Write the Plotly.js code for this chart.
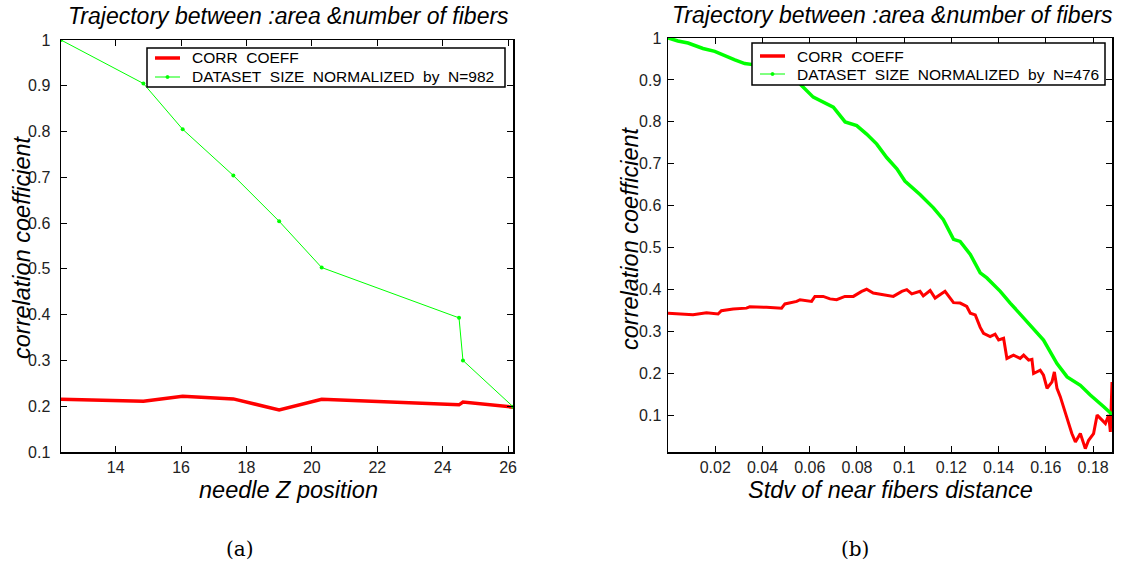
<!DOCTYPE html>
<html>
<head>
<meta charset="utf-8">
<script src="https://cdn.plot.ly/plotly-3.0.1.min.js"></script>
<style>
  html, body { margin: 0; padding: 0; background: #ffffff; }
  #chart { width: 1143px; height: 572px; }
</style>
</head>
<body>
<div id="chart"></div>
<script>
// (a) correlation along the needle trajectory
const needleZ   = [12.33, 14.85, 16.05, 17.6, 19.0, 20.3, 24.5, 24.62, 26.15];
const corrByZ   = [0.215, 0.211, 0.222, 0.216, 0.192, 0.215, 0.203, 0.209, 0.198];
const sizeByZ   = [1.0, 0.905, 0.805, 0.704, 0.604, 0.503, 0.393, 0.300, 0.199];

// (b) correlation against the spread of near-fiber distances
const stdvCorr = [0, 0.0064, 0.0106, 0.0163, 0.0212, 0.0226, 0.0276, 0.0332, 0.0346, 0.0417,
  0.0481, 0.0495, 0.0545, 0.0559, 0.0608, 0.0622, 0.0657, 0.0686, 0.0714, 0.0749,
  0.0785, 0.082, 0.0841, 0.0869, 0.0912, 0.0954, 0.099, 0.1011, 0.1032, 0.1067,
  0.1081, 0.111, 0.1131, 0.1152, 0.1173, 0.1209, 0.1237, 0.1265, 0.128, 0.1301,
  0.1322, 0.1336, 0.1364, 0.1385, 0.14, 0.1421, 0.1435, 0.1463, 0.1491, 0.1506,
  0.1527, 0.1541, 0.1548, 0.1576, 0.159, 0.1605, 0.1626, 0.1636, 0.1647, 0.1661,
  0.1682, 0.171, 0.1725, 0.1746, 0.1767, 0.1781, 0.1802, 0.1817, 0.1838, 0.1852,
  0.1866, 0.1873, 0.188];
const corrByStdv = [0.344, 0.342, 0.340, 0.345, 0.342, 0.350, 0.354, 0.356, 0.359, 0.358,
  0.356, 0.366, 0.372, 0.376, 0.372, 0.384, 0.384, 0.378, 0.376, 0.384,
  0.384, 0.396, 0.401, 0.392, 0.388, 0.384, 0.396, 0.400, 0.390, 0.396,
  0.385, 0.398, 0.380, 0.388, 0.396, 0.369, 0.368, 0.360, 0.344, 0.340,
  0.310, 0.296, 0.288, 0.294, 0.280, 0.284, 0.236, 0.244, 0.236, 0.244,
  0.232, 0.234, 0.200, 0.208, 0.196, 0.165, 0.180, 0.204, 0.165, 0.145,
  0.105, 0.057, 0.037, 0.057, 0.021, 0.041, 0.057, 0.101, 0.089, 0.081,
  0.101, 0.061, 0.180];

const stdvSize = [0, 0.0042, 0.0085, 0.012, 0.0148, 0.0198, 0.0233, 0.0283, 0.0325, 0.0368,
  0.0545, 0.0558, 0.0615, 0.07, 0.075, 0.0799, 0.0841, 0.0884, 0.0926, 0.0969,
  0.1003, 0.1067, 0.1124, 0.1166, 0.1209, 0.1237, 0.128, 0.1322, 0.135, 0.1407,
  0.1449, 0.1506, 0.1548, 0.159, 0.1647, 0.169, 0.1746, 0.1788, 0.1845, 0.1883];
const sizeByStdv = [1.0, 0.993, 0.988, 0.980, 0.975, 0.968, 0.959, 0.948, 0.939, 0.936,
  0.894, 0.891, 0.859, 0.835, 0.800, 0.791, 0.771, 0.747, 0.715, 0.688,
  0.659, 0.627, 0.595, 0.567, 0.520, 0.515, 0.484, 0.440, 0.428, 0.396,
  0.368, 0.332, 0.304, 0.280, 0.224, 0.192, 0.172, 0.149, 0.121, 0.101];

// tick labels
const zTicks       = [14, 16, 18, 20, 22, 24, 26];
const stdvTicks    = [0.02, 0.04, 0.06, 0.08, 0.1, 0.12, 0.14, 0.16, 0.18];
const stdvTickText = ['0.02', '0.04', '0.06', '0.08', '0.1', '0.12', '0.14', '0.16', '0.18'];
const corrTicks    = [0.1, 0.2, 0.3, 0.4, 0.5, 0.6, 0.7, 0.8, 0.9, 1];
const corrTickText = ['0.1', '0.2', '0.3', '0.4', '0.5', '0.6', '0.7', '0.8', '0.9', '1'];

const NB = '\u00a0';
const corrName  = 'CORR' + NB + NB + 'COEFF';
const sizeNameA = ['DATASET', 'SIZE', 'NORMALIZED', 'by', 'N=982'].join(NB + NB);
const sizeNameB = ['DATASET', 'SIZE', 'NORMALIZED', 'by', 'N=476'].join(NB + NB);
const plotTitle = 'Trajectory between :area &amp;number of fibers';

// page geometry in pixels
const W = 1143, H = 572;
const px = p => p / W;
const py = p => 1 - p / H;
const boxA = { l: 61, r: 513, t: 40, b: 452 };
const boxB = { l: 668, r: 1112, t: 38, b: 452 };

const RED = '#ff0000', GREEN = '#00ff00';
const FONT = 'Liberation Sans, Arial, Helvetica, sans-serif';

function axis(extra) {
  return Object.assign({
    showline: true, linecolor: '#000', linewidth: 1.5, mirror: 'ticks',
    ticks: 'inside', ticklen: 6, tickwidth: 1, tickcolor: '#000',
    showgrid: false, zeroline: false, tickmode: 'array',
    tickfont: { family: FONT, size: 16, color: '#222' }
  }, extra);
}

const traces = [
  { x: needleZ, y: corrByZ, xaxis: 'x', yaxis: 'y', mode: 'lines', name: corrName,
    line: { color: RED, width: 3.5 } },
  { x: needleZ, y: sizeByZ, xaxis: 'x', yaxis: 'y', mode: 'lines+markers', name: sizeNameA,
    line: { color: GREEN, width: 1 }, marker: { color: GREEN, size: 4 } },
  { x: stdvCorr, y: corrByStdv, xaxis: 'x2', yaxis: 'y2', mode: 'lines', name: corrName,
    line: { color: RED, width: 3 } },
  { x: stdvSize, y: sizeByStdv, xaxis: 'x2', yaxis: 'y2', mode: 'lines', name: sizeNameB,
    line: { color: GREEN, width: 3.5 } }
];

// boxed key drawn with shapes and text, one per panel
const legendFont = { family: FONT, size: 15.5, color: '#000' };
const shapes = [];
const keyText = [];
function addKey(box, rows) {
  shapes.push({ type: 'rect', xref: 'paper', yref: 'paper', layer: 'above',
    x0: px(box.l), x1: px(box.r), y0: py(box.b), y1: py(box.t),
    line: { color: '#000', width: 1.5 }, fillcolor: '#ffffff' });
  rows.forEach(r => {
    shapes.push({ type: 'line', xref: 'paper', yref: 'paper', layer: 'above',
      x0: px(box.l + 8), x1: px(box.l + 33), y0: py(r.y), y1: py(r.y),
      line: { color: r.color, width: r.width } });
    if (r.dot) {
      shapes.push({ type: 'circle', xref: 'paper', yref: 'paper', layer: 'above',
        x0: px(box.l + 19), x1: px(box.l + 22), y0: py(r.y + 1.5), y1: py(r.y - 1.5),
        line: { color: r.color, width: 1 }, fillcolor: r.color });
    }
    keyText.push({ text: r.name, x: px(box.l + 43), y: py(r.y), xanchor: 'left',
      font: legendFont });
  });
}
addKey({ l: 147, r: 505, t: 48, b: 87 }, [
  { y: 58, name: corrName, color: RED, width: 3.5 },
  { y: 77, name: sizeNameA, color: GREEN, width: 1, dot: true }
]);
addKey({ l: 752, r: 1105, t: 43, b: 85 }, [
  { y: 56, name: corrName, color: RED, width: 3.5 },
  { y: 74, name: sizeNameB, color: GREEN, width: 1, dot: true }
]);

const titleFont = { family: FONT, size: 23, color: '#000' };
const axTitleFont = { family: FONT, size: 23.5, color: '#000' };
const capFont = { family: 'DejaVu Serif, Liberation Serif, serif', size: 20, color: '#000' };

const annotations = [
  { text: '<i>' + plotTitle + '</i>', x: px((boxA.l + boxA.r) / 2 + 1), y: py(16), font: titleFont },
  { text: '<i>' + plotTitle + '</i>', x: px(892), y: py(15), font: titleFont },
  { text: '<i>needle Z position</i>', x: px(288), y: py(490), font: axTitleFont },
  { text: '<i>Stdv of near fibers distance</i>', x: px(891), y: py(490), font: axTitleFont },
  { text: '<i>correlation coefficient</i>', x: px(22), y: py(247), font: axTitleFont, textangle: -90 },
  { text: '<i>correlation coefficient</i>', x: px(630), y: py(238), font: axTitleFont, textangle: -90 },
  { text: '(a)', x: px(240), y: py(549), font: capFont },
  { text: '(b)', x: px(855), y: py(549), font: capFont }
].concat(keyText).map(a => Object.assign({ xref: 'paper', yref: 'paper', showarrow: false,
                           xanchor: 'center', yanchor: 'middle' }, a));

const layout = {
  width: W, height: H,
  margin: { l: 0, r: 0, t: 0, b: 0 },
  paper_bgcolor: '#ffffff', plot_bgcolor: '#ffffff',
  showlegend: false,
  xaxis: axis({ domain: [px(boxA.l), px(boxA.r)], range: [12.33, 26.15],
                tickvals: zTicks, anchor: 'y' }),
  yaxis: axis({ domain: [py(boxA.b), py(boxA.t)], range: [0.1, 1],
                tickvals: corrTicks, ticktext: corrTickText, anchor: 'x',
                ticklabelstandoff: 6 }),
  xaxis2: axis({ domain: [px(boxB.l), px(boxB.r)], range: [0, 0.188],
                 tickvals: stdvTicks, ticktext: stdvTickText, anchor: 'y2' }),
  yaxis2: axis({ domain: [py(boxB.b), py(boxB.t)], range: [0.013, 1],
                 tickvals: corrTicks, ticktext: corrTickText, anchor: 'x2',
                 ticklabelstandoff: 2 }),
  shapes: shapes,
  annotations: annotations
};

Plotly.newPlot('chart', traces, layout, { staticPlot: true, displayModeBar: false });
</script>
</body>
</html>
